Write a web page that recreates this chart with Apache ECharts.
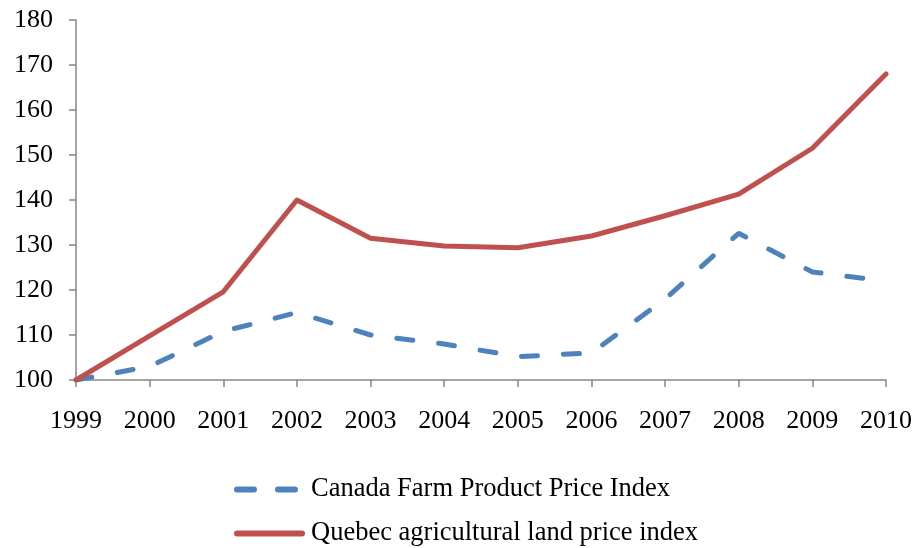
<!DOCTYPE html>
<html><head><meta charset="utf-8">
<script src="https://cdn.jsdelivr.net/npm/echarts@6/dist/echarts.min.js"></script>
<style>html,body{margin:0;padding:0;background:#fff}#c{width:915px;height:548px}</style>
</head><body><div id="c"></div>
<script>
const years = ['1999','2000','2001','2002','2003','2004','2005','2006','2007','2008','2009','2010'];
const canadaFarm = [100, 103, 110.8, 115, 110, 108, 105.2, 106, 118, 132.6, 124, 122];
const quebecLand = [100, 109.8, 119.6, 140, 131.5, 129.8, 129.4, 132, 136.5, 141.3, 151.5, 168];
const seriesNames = ['Canada Farm Product Price Index', 'Quebec agricultural land price index'];
const yTicks = {min: 100, max: 180, interval: 10};

const font = '"Liberation Serif", "Times New Roman", serif';
const axisCol = '#868686';
const blue = '#4F81BD', red = '#C0504D';
const legendBase = {
  orient: 'horizontal', left: 234, itemWidth: 71, itemHeight: 6, padding: 0,
  textStyle: {fontFamily: font, fontSize: 26.5, color: '#000', padding: [0, 0, 0, 1]}
};
const chart = echarts.init(document.getElementById('c'));
chart.setOption({
  animation: false,
  grid: {left: 76, right: 28, top: 20, bottom: 168},
  xAxis: {
    type: 'category', data: years, boundaryGap: false,
    axisLine: {lineStyle: {color: axisCol, width: 1.5}},
    axisTick: {alignWithLabel: true, length: 7, lineStyle: {color: axisCol, width: 1.5}},
    axisLabel: {color: '#000', fontFamily: font, fontSize: 26, margin: 28, interval: 0}
  },
  yAxis: {
    type: 'value', min: yTicks.min, max: yTicks.max, interval: yTicks.interval,
    axisLine: {show: true, lineStyle: {color: axisCol, width: 1.5}},
    axisTick: {show: true, length: 7, lineStyle: {color: axisCol, width: 1.5}},
    splitLine: {show: false},
    axisLabel: {color: '#000', fontFamily: font, fontSize: 26, margin: 23}
  },
  legend: [
    Object.assign({}, legendBase, {top: 476, data: [
      {name: seriesNames[0], icon: 'path://M3,0h17a3,3 0 0 1 0,6h-17a3,3 0 0 1 0,-6z M44,0h17a3,3 0 0 1 0,6h-17a3,3 0 0 1 0,-6z M71,0L71,6', itemStyle: {color: blue}}
    ]}),
    Object.assign({}, legendBase, {top: 520, data: [
      {name: seriesNames[1], icon: 'path://M3,0h65a3,3 0 0 1 0,6h-65a3,3 0 0 1 0,-6z', itemStyle: {color: red}}
    ]})
  ],
  series: [
    {name: seriesNames[0], type: 'line', data: canadaFarm, symbol: 'none',
     lineStyle: {color: blue, width: 5, type: [16, 26], cap: 'round'},
     itemStyle: {color: blue}},
    {name: seriesNames[1], type: 'line', data: quebecLand, symbol: 'none',
     lineStyle: {color: red, width: 5, cap: 'round', join: 'round'},
     itemStyle: {color: red}}
  ]
});
</script></body></html>
